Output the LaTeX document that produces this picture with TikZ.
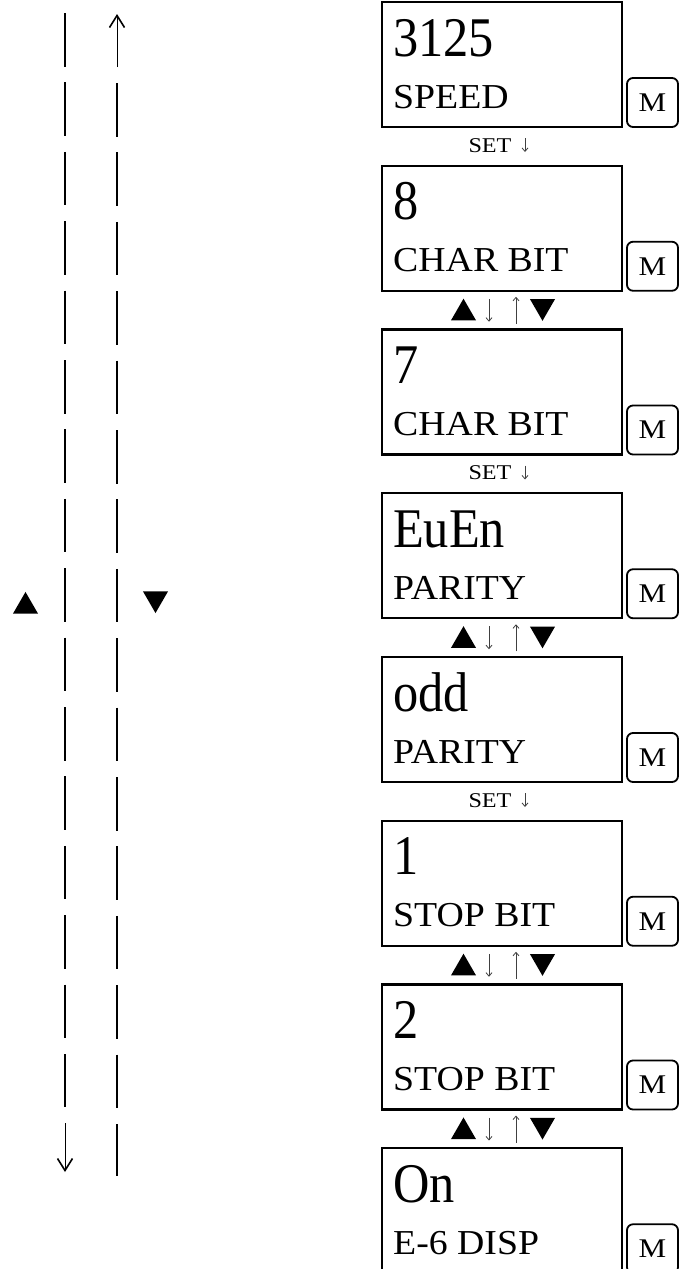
\documentclass[tikz,border=0pt]{standalone}
\usepackage{fontspec}
\setmainfont{Liberation Serif}
\newfontfamily\bigdisp[FakeStretch=0.9]{Liberation Serif}
\newfontfamily\lbldisp[FakeStretch=1.08]{Liberation Serif}
\newfontfamily\tagfont[FakeStretch=1.15]{Liberation Serif}
\usetikzlibrary{arrows.meta,shapes.geometric}

\begin{document}
\begin{tikzpicture}[x=1pt,y=-1pt,line width=2.4pt,
  disp/.style={draw,minimum width=240pt,minimum height=125pt,inner sep=0pt,outer sep=0pt,anchor=north west},
  val/.style={anchor=base west,inner sep=0pt,font=\bigdisp\fontsize{56}{60}\selectfont},
  lbl/.style={anchor=base west,inner sep=0pt,font=\lbldisp\fontsize{35}{40}\selectfont},
  mkey/.style={draw,line width=1.8pt,rounded corners=6pt,minimum width=51pt,minimum height=49pt,inner sep=0pt,outer sep=0pt,anchor=south west,font=\tagfont\fontsize{27}{30}\selectfont},
  tag/.style={anchor=base,inner sep=0pt,font=\tagfont\fontsize{21}{24}\selectfont},
  upmark/.style={regular polygon,regular polygon sides=3,fill,inner sep=0pt,minimum size=28.9pt},
  dnmark/.style={upmark,shape border rotate=180},
  tick/.style={black!75,line width=.8pt,-{Straight Barb[length=3.5pt,width=6pt]}},
  trail/.style={dash pattern=on 53.5pt off 15.9pt},
  bigarr/.style={line width=1pt,-{Straight Barb[length=12pt,width=15pt,line width=1.6pt]}}]
\useasboundingbox (0,0) rectangle (683,1269);

\coordinate (lt) at (65,13);
\coordinate (lb) at (65,1107);
\coordinate (la) at (65,1123);
\coordinate (lz) at (65,1172);
\coordinate (rt) at (117,14);
\coordinate (ra) at (117,67);
\coordinate (rb) at (117,83);
\coordinate (rz) at (117,1176);
\draw[trail] (lt) -- (lb);
\draw[bigarr] (la) -- (lz);
\draw[bigarr] (ra) -- (rt);
\draw[trail] (rb) -- (rz);
\node[upmark] (up) at (25.5,606.4) {};
\node[dnmark] (dn) at (155.5,598.6) {};

\foreach \val/\lbl/\gp [count=\k] in {3125/SPEED/1,8/CHAR BIT/2,7/CHAR BIT/1,EuEn/PARITY/2,odd/PARITY/1,1/STOP BIT/2,2/STOP BIT/2,On/E-6 DISP/0}{
  \pgfmathsetmacro\ytop{2+163.75*(\k-1)}
  \pgfmathsetmacro\ybot{\ytop+125}
  \node[disp] (d\k) at (382,\ytop) {};
  \node[val] (v\k) at (392,\ytop+54) {\val};
  \node[lbl] (t\k) at (392,\ytop+106) {\lbl};
  \node[mkey] (m\k) at (627,\ybot) {M};
  \ifnum\gp=1 \relax
    \node[tag] (s\k) at (490,\ybot+25) {SET};
    \draw[tick] (525,\ybot+11) -- (525,\ybot+25);
  \fi
  \ifnum\gp=2 \relax
    \node[upmark] (a\k) at (463.5,\ybot+22.4) {};
    \node[dnmark] (b\k) at (542.5,\ybot+15.6) {};
    \draw[tick] (489,\ybot+8) -- (489,\ybot+31);
    \draw[tick] (516,\ybot+33) -- (516,\ybot+6);
  \fi
}
\end{tikzpicture}
\end{document}
